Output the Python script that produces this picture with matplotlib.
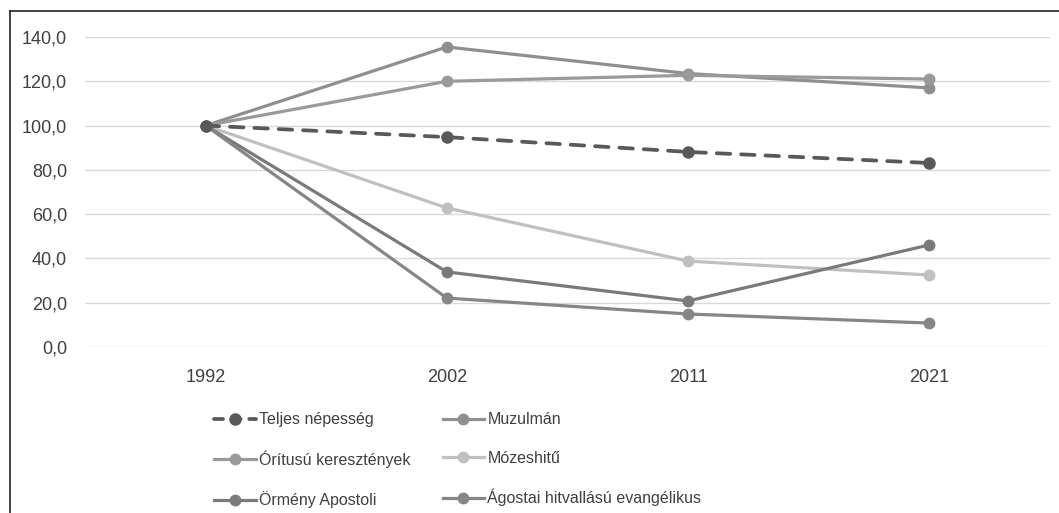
import matplotlib.pyplot as plt
import matplotlib.ticker as mtp_ticker
from matplotlib.lines import Line2D

plt.rcParams['font.family'] = ['Liberation Sans', 'DejaVu Sans']

years = ['1992', '2002', '2011', '2021']

teljes = [100.0, 94.8, 88.1, 83.1]
muzulman = [100.0, 135.5, 123.5, 117.0]
oritusu = [100.0, 120.0, 122.7, 121.0]
mozeshitu = [100.0, 62.8, 38.8, 32.5]
ormeny = [100.0, 33.9, 20.8, 46.1]
agostai = [100.0, 22.1, 14.9, 10.8]

fig = plt.figure(figsize=(10.59, 5.13), dpi=100)
ax = fig.add_axes([85 / 1059, 1 - 347 / 513, 965 / 1059, 310 / 513])

x = range(len(years))
kw = dict(marker='o', markersize=7.5, linewidth=2.3)

h_teljes, = ax.plot(x, teljes, color='#595959', marker='o', markersize=8, linewidth=2.7,
                    linestyle=(0, (3.6, 2.9)), dash_capstyle='round',
                    label='Teljes népesség', zorder=5)
h_muz, = ax.plot(x, muzulman, color='#8f8f8f', label='Muzulmán', **kw)
h_ori, = ax.plot(x, oritusu, color='#9a9a9a', label='Órítusú keresztények', **kw)
h_moz, = ax.plot(x, mozeshitu, color='#c0c0c0', label='Mózeshitű', **kw)
h_orm, = ax.plot(x, ormeny, color='#7a7a7a', label='Örmény Apostoli', **kw)
h_ago, = ax.plot(x, agostai, color='#868686', label='Ágostai hitvallású evangélikus', **kw)

ax.set_xlim(-0.5, 3.5)
ax.set_ylim(0, 140)
ax.set_yticks(range(0, 141, 20))
ax.set_xticks(list(x))
ax.set_xticklabels(years)
ax.yaxis.set_major_formatter(mtp_ticker.FuncFormatter(lambda v, p: format(v, '.1f').replace('.', ',')))
ax.grid(axis='y', color='#d9d9d9', linewidth=1)
ax.set_axisbelow(True)
for s in ax.spines.values():
    s.set_visible(False)
ax.tick_params(length=0, labelsize=13, colors='#404040')
ax.tick_params(axis='x', pad=16)
ax.tick_params(axis='y', pad=13)

# legend proxy for the dashed series: short dashes so they show in the key
teljes_key = Line2D([], [], color='#595959', marker='o', markersize=8, linewidth=2.7,
                    linestyle=(0, (2.4, 2.3)), dash_capstyle='round', label=h_teljes.get_label())

# legend: two columns, filled column by column
handles = [teljes_key, h_ori, h_orm, h_muz, h_moz, h_ago]
fig.legend(handles=handles, labels=[h.get_label() for h in handles], ncol=2,
           loc='upper left', bbox_to_anchor=(200 / 1059, 1 - 398 / 513),
           frameon=False, fontsize=11.5, labelcolor='#404040',
           handlelength=2.6, handletextpad=0.2, labelspacing=1.45, columnspacing=2.0)

# chart border
fig.add_artist(Line2D([10 / 1059, 1], [1 - 11 / 513, 1 - 11 / 513], color='#222222', linewidth=1.2))
fig.add_artist(Line2D([10 / 1059, 10 / 1059], [0, 1 - 11 / 513], color='#222222', linewidth=1.2))

fig.savefig('out.png', dpi=100)
